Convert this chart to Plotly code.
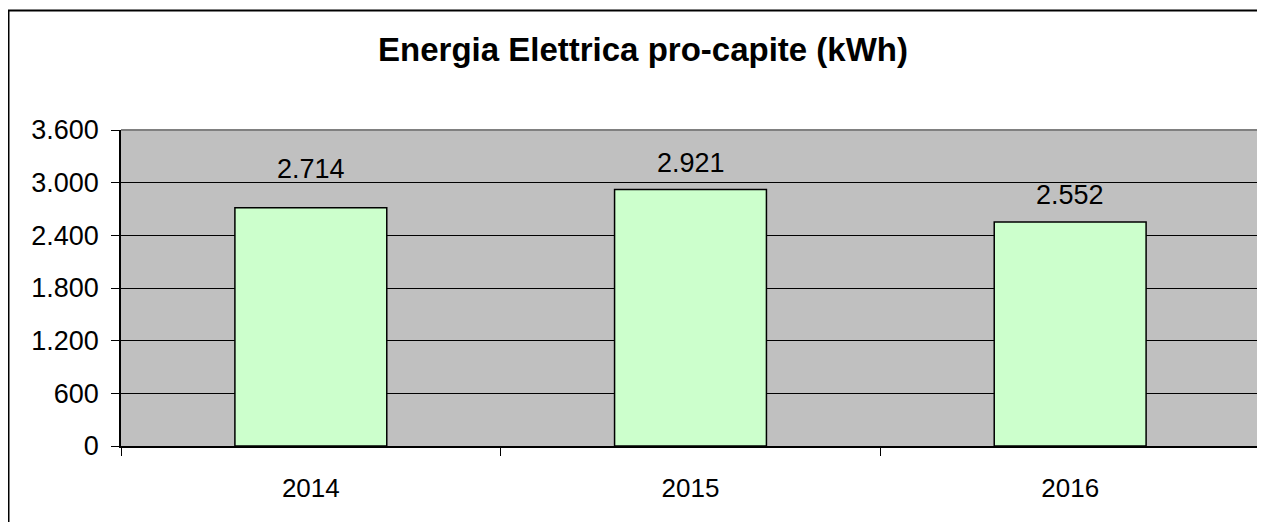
import plotly.graph_objects as go

years = ["2014", "2015", "2016"]
values = [2714, 2921, 2552]
y_ticks = [0, 600, 1200, 1800, 2400, 3000, 3600]
title_text = "Energia Elettrica pro-capite (kWh)"

# label offsets (styling, pixels above bar top)
label_shift = [39, 27, 27]

FONT = "Liberation Sans, Arial, sans-serif"

W, H = 1257, 514
L, R, T, B = 113, 5, 122, 76
PW, PH = W - L - R, H - T - B

fig = go.Figure()
fig.add_trace(go.Bar(
    x=years, y=values,
    marker=dict(color="#CCFFCC", line=dict(color="black", width=1.5)),
    hoverinfo="skip",
))

annotations = []
for i, (v, s) in enumerate(zip(values, label_shift)):
    annotations.append(dict(
        x=i, y=v, xref="x", yref="y", text=f"{v:,}".replace(",", "."),
        showarrow=False, yanchor="middle", xanchor="center", yshift=s,
        font=dict(family=FONT, size=27, color="black"),
    ))

fig.update_layout(
    width=W, height=H,
    margin=dict(l=L, r=R, t=T, b=B),
    paper_bgcolor="white", plot_bgcolor="#C0C0C0",
    separators=",.",
    bargap=0.6,
    showlegend=False,
    title=dict(text="<b>" + title_text + "</b>", x=635 / W, xref="container", xanchor="center",
               y=1 - 41.5 / H, yref="container", yanchor="middle",
               font=dict(family=FONT, size=33, color="black")),
    font=dict(family=FONT, size=26, color="black"),
    xaxis=dict(type="category", range=[-0.5, len(years) - 0.5], tickson="boundaries",
               ticks="outside", ticklen=8, tickangle=0,
               tickcolor="black", tickwidth=1, showline=True, linecolor="black", linewidth=1.5,
               showgrid=False, tickfont=dict(family=FONT, size=26, color="black"),
               ticklabelstandoff=18),
    yaxis=dict(range=[0, 3600], tickvals=y_ticks, tickformat=",d", ticks="outside", ticklen=8,
               tickcolor="black", showline=True, linecolor="black", linewidth=1.5,
               showgrid=True, gridcolor="black", gridwidth=1, zeroline=False,
               tickfont=dict(family=FONT, size=27, color="black"),
               ticklabelstandoff=7),
    annotations=annotations,
    shapes=[
        dict(type="line", xref="paper", yref="paper", x0=0, x1=1, y0=1, y1=1,
             line=dict(color="#808080", width=2)),
        dict(type="line", xref="paper", yref="paper", x0=1, x1=1, y0=0, y1=1,
             line=dict(color="#808080", width=2)),
        dict(type="rect", xref="paper", yref="paper",
             x0=(0.5 - L) / PW, x1=1.2, y0=-0.5, y1=(T + PH - 2.5) / PH,
             line=dict(color="black", width=2), fillcolor="rgba(0,0,0,0)", layer="below"),
    ],
)

fig.write_html("out.html")
